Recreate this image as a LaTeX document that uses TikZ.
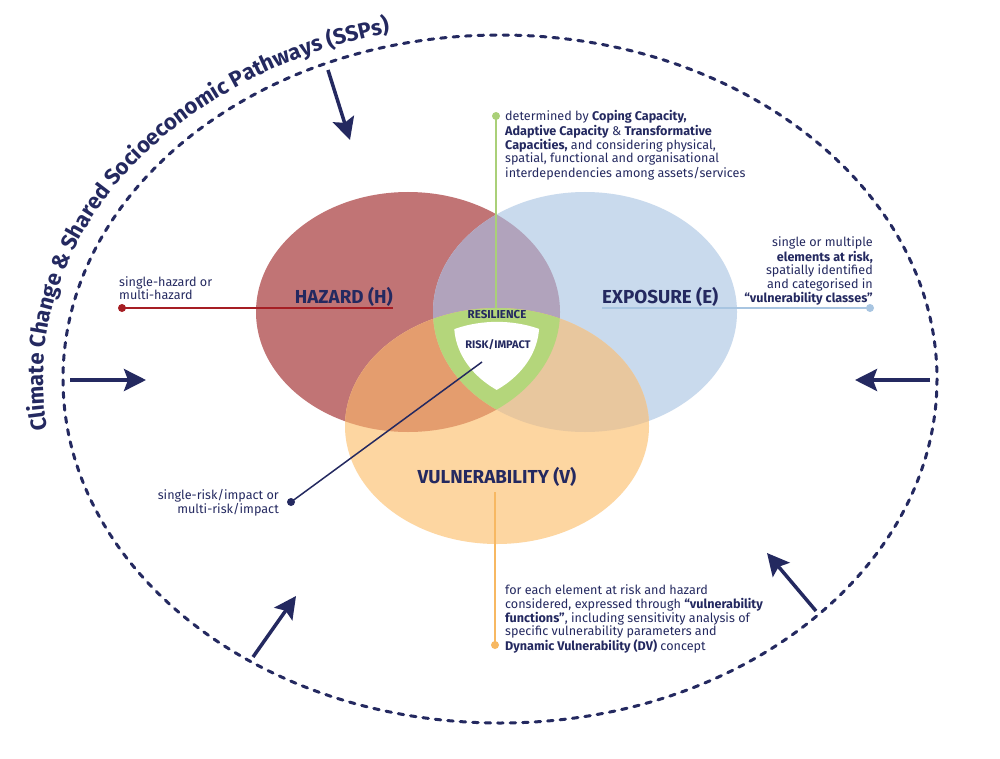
\documentclass[tikz,border=0pt]{standalone}
\usepackage{fontspec}
\setmainfont{Fira Sans}
\usetikzlibrary{arrows.meta,decorations.text}
\definecolor{navy}{RGB}{36,41,96}
\definecolor{hazc}{RGB}{193,116,117}
\definecolor{expc}{RGB}{201,218,237}
\definecolor{vulc}{RGB}{253,214,161}
\definecolor{hec}{RGB}{177,163,188}
\definecolor{hvc}{RGB}{228,157,110}
\definecolor{evc}{RGB}{232,199,158}
\definecolor{resc}{RGB}{180,214,123}
\definecolor{redl}{RGB}{166,30,36}
\definecolor{bluel}{RGB}{168,197,225}
\definecolor{orl}{RGB}{247,184,98}
\definecolor{grl}{RGB}{170,208,120}
\tikzset{
  Hshape/.style={insert path={(408,312) ellipse [x radius=152, y radius=120]}},
  Eshape/.style={insert path={(585,312) ellipse [x radius=152, y radius=120]}},
  Vshape/.style={insert path={(497,426) ellipse [x radius=152, y radius=118]}},
  desc/.style={text=navy, inner sep=0pt, font=\fontsize{12.6}{13}\selectfont},
  head/.style={text=navy, inner sep=0pt, font=\fontsize{18.8}{19}\selectfont\bfseries},
  small head/.style={text=navy, inner sep=0pt, font=\fontsize{11.5}{12}\selectfont\bfseries},
  dotnode/.style={circle, inner sep=0pt, minimum size=8pt},
  bigarrow/.style={navy, line width=3.5pt, -{Stealth[length=22pt,width=22pt,inset=4pt]}},
  leader/.style={line width=1.5pt},
}
\begin{document}
\begin{tikzpicture}[x=1pt,y=-1pt]
\useasboundingbox (0,0) rectangle (1000,759);
\fill[white] (0,0) rectangle (1000,759);

% Venn ellipses
\fill[hazc][Hshape];
\fill[expc][Eshape];
\fill[vulc][Vshape];
\begin{scope}\clip[Hshape]; \fill[hec][Eshape]; \end{scope}
\begin{scope}\clip[Hshape]; \fill[hvc][Vshape]; \end{scope}
\begin{scope}\clip[Eshape]; \fill[evc][Vshape]; \end{scope}
\begin{scope}\clip[Hshape]; \clip[Eshape]; \fill[resc][Vshape]; \end{scope}
\begin{scope}[shift={(497,350)},scale=0.67,shift={(-497,-350)}]
  \clip[Hshape]; \clip[Eshape]; \fill[white][Vshape];
\end{scope}

% outer dashed ellipse
\draw[navy, line width=3pt, line cap=round, dash pattern=on 5.5pt off 7pt] (500,379) ellipse [x radius=437, y radius=344];

% curved title
\path[decorate, decoration={text along path, text align=left,
  text={|\color{navy}\fontsize{22}{22}\selectfont\bfseries|Climate Change {\&} Shared Socioeconomic Pathways (SSPs)}}]
  (500,379) ++(171.8:457 and 357) arc[start angle=171.8, end angle=268, x radius=457, y radius=357];

% arrows
\coordinate (aTt) at (328,70);  \coordinate (aTh) at (350,140);
\coordinate (aLt) at (70,380);  \coordinate (aLh) at (146,380);
\coordinate (aRt) at (930,380); \coordinate (aRh) at (855,380);
\coordinate (aBLt) at (253,657); \coordinate (aBLh) at (296,596);
\coordinate (aBRt) at (816,611); \coordinate (aBRh) at (767,553);
\draw[bigarrow] (aTt) -- (aTh);
\draw[bigarrow] (aLt) -- (aLh);
\draw[bigarrow] (aRt) -- (aRh);
\draw[bigarrow] (aBLt) -- (aBLh);
\draw[bigarrow] (aBRt) -- (aBRh);

% leader lines
\node[dotnode, fill=grl] (gdot) at (496,116) {};
\coordinate (gend) at (496,308);
\draw[leader, grl] (gdot.center) -- (gend);

\node[dotnode, fill=redl] (rdot) at (122,308) {};
\coordinate (rend) at (393,308);
\draw[leader, redl] (rdot.center) -- (rend);

\node[dotnode, fill=bluel] (bdot) at (870,308) {};
\coordinate (bend) at (602,308);
\draw[leader, bluel] (bdot.center) -- (bend);

\node[dotnode, fill=orl] (odot) at (495,645) {};
\coordinate (ostart) at (495,492);
\draw[leader, orl] (ostart) -- (odot.center);

\node[dotnode, fill=navy] (ndot) at (291,502) {};
\coordinate (nend) at (482,362);
\draw[leader, navy] (ndot.center) -- (nend);

% headings
\node[head, anchor=base east] (hz) at (393,303) {HAZARD (H)};
\node[head, anchor=base west] (ex) at (602,303) {EXPOSURE (E)};
\node[head, anchor=base] (vu) at (497,483) {VULNERABILITY (V)};
\node[small head, anchor=base] (res) at (497,318) {RESILIENCE};
\node[small head, font=\fontsize{11}{11}\selectfont\bfseries, anchor=base] (risk) at (498,348) {RISK/IMPACT};

% descriptions
\node[desc, anchor=base west] (gtext) at (505,121) {\begin{tabular}[t]{@{}l@{}}
determined by \textbf{Coping Capacity,}\\
\textbf{Adaptive Capacity} \& \textbf{Transformative}\\
\textbf{Capacities,} and considering physical,\\
spatial, functional and organisational\\
interdependencies among assets/services\end{tabular}};

\node[desc, anchor=base west] (htext) at (119,286) {\begin{tabular}[t]{@{}l@{}}
single-hazard or\\ multi-hazard\end{tabular}};

\node[desc, anchor=base east] (etext) at (873,247) {\begin{tabular}[t]{@{}r@{}}
single or multiple\\
\textbf{elements at risk,}\\
spatially identified\\
and categorised in\\
\textbf{“vulnerability classes”}\end{tabular}};

\node[desc, anchor=base east] (ntext) at (279,499) {\begin{tabular}[t]{@{}r@{}}
single-risk/impact or\\ multi-risk/impact\end{tabular}};

\node[desc, anchor=base west] (vtext) at (505,594) {\begin{tabular}[t]{@{}l@{}}
for each element at risk and hazard\\
considered, expressed through \textbf{“vulnerability}\\
\textbf{functions”}, including sensitivity analysis of\\
specific vulnerability parameters and\\
\textbf{Dynamic Vulnerability (DV)} concept\end{tabular}};
\end{tikzpicture}
\end{document}
